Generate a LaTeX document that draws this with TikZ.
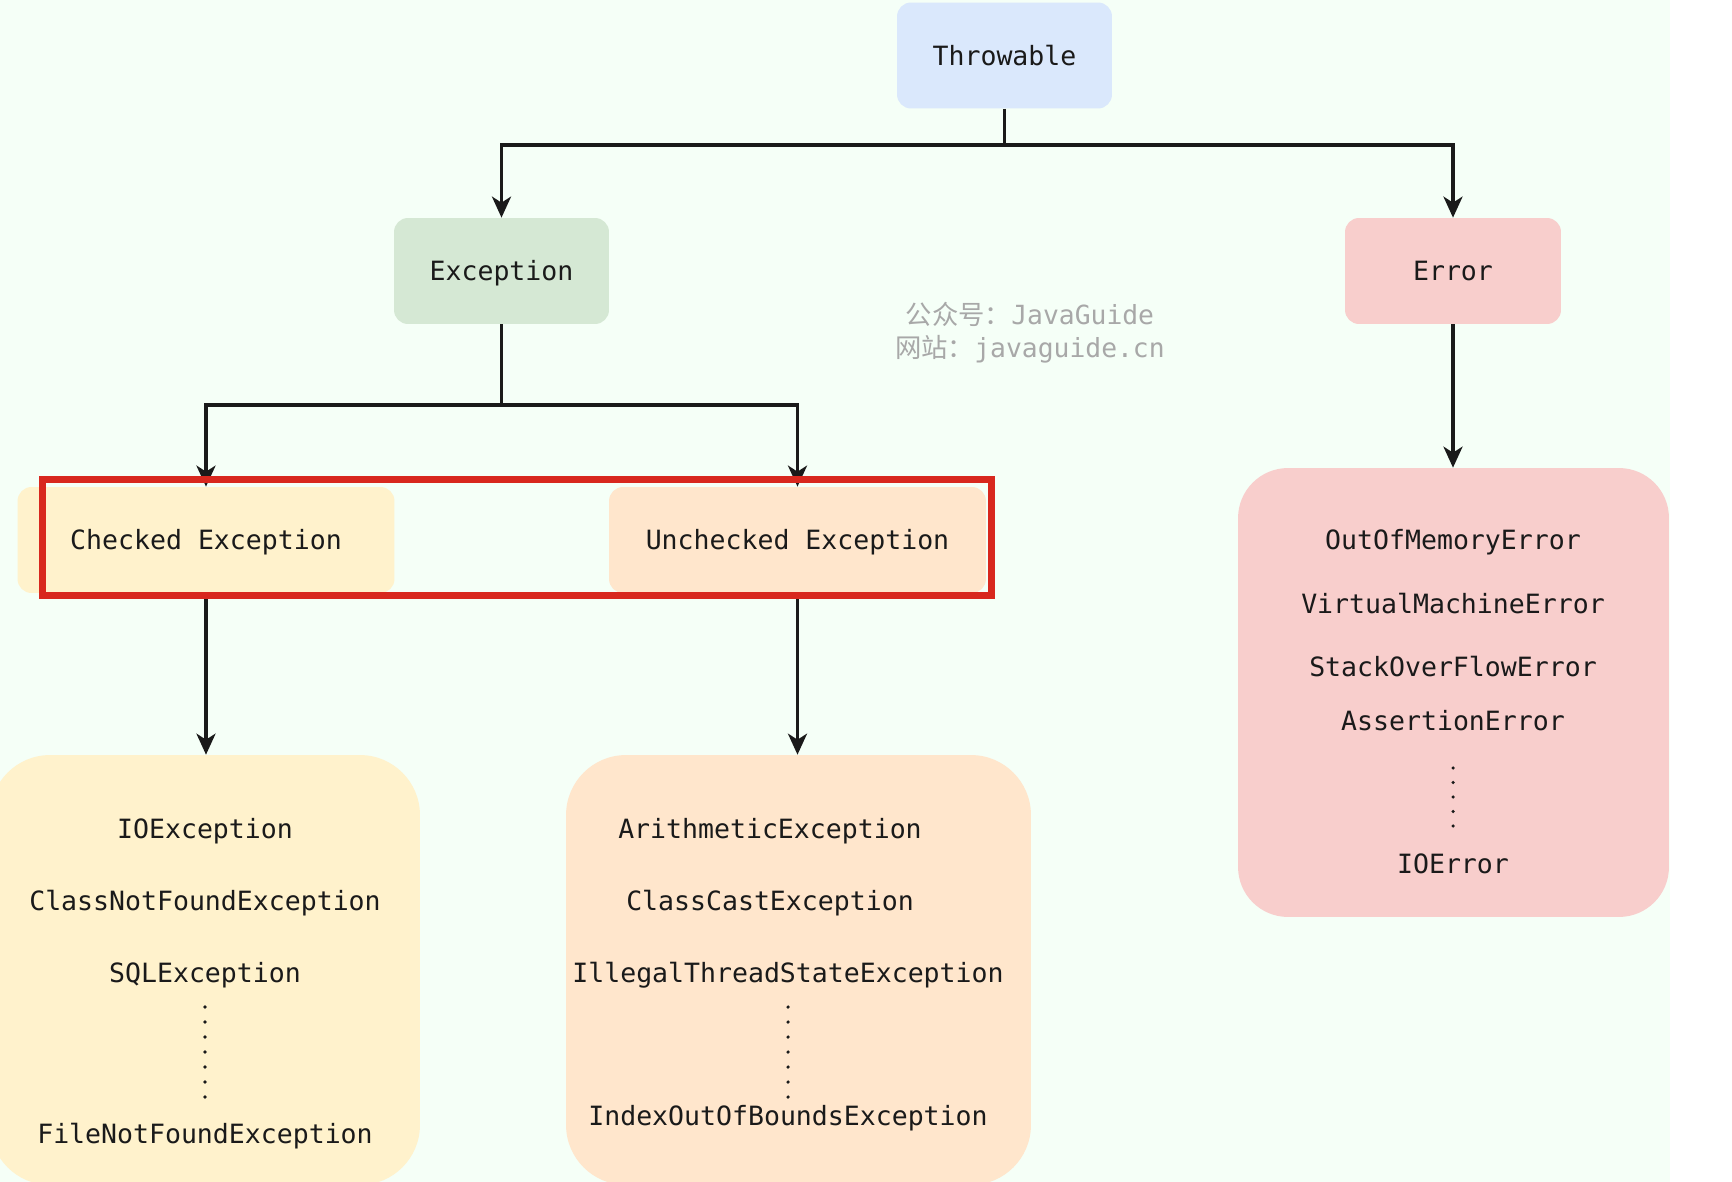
\documentclass[tikz,border=0pt]{standalone}
\usepackage{fontspec}
\setmonofont{DejaVu Sans Mono}
\newfontfamily\cjk{Noto Sans CJK SC}
\usetikzlibrary{arrows.meta}

\definecolor{bgmint}{HTML}{F5FFF7}
\definecolor{ink}{HTML}{1A1A1A}
\definecolor{wmgray}{HTML}{A8A8A8}
\definecolor{hlred}{HTML}{D8281E}
\definecolor{fillblue}{HTML}{DAE8FC}
\definecolor{fillgreen}{HTML}{D5E8D4}
\definecolor{fillred}{HTML}{F8CECC}
\definecolor{fillyellow}{HTML}{FFF2CC}
\definecolor{fillorange}{HTML}{FFE6CC}

\tikzset{
  lbl/.style={font=\fontsize{15.1}{18}\selectfont\ttfamily, text=ink},
  tbox/.style={lbl, rounded corners=0.28cm, minimum width=4.3cm, minimum height=2.12cm,
    inner sep=0pt, text height=0.388cm, text depth=0pt},
  kbox/.style={tbox, minimum width=7.54cm},
  listbox/.style={rounded corners=1.2cm, minimum width=8.6cm, minimum height=8.6cm, inner sep=0pt},
  item/.style={lbl, anchor=base, inner sep=0pt},
  conn/.style={line width=0.07cm, draw=ink},
  arr/.style={conn, -{Stealth[length=0.42cm, width=0.38cm, inset=0.12cm]}},
  wm/.style={font=\fontsize{15}{18}\selectfont\ttfamily, text=wmgray, anchor=base, inner sep=0pt},
}

\begin{document}
\begin{tikzpicture}[x=0.02cm, y=-0.02cm]
  \useasboundingbox (0,0) rectangle (1732,1182);
  % page background
  \fill[white] (0,0) rectangle (1732,1182);
  \fill[bgmint] (0,0) rectangle (1670,1182);

  % hierarchy boxes
  \node[tbox, fill=fillblue]  (thr) at (1004.5,55.5) {Throwable};
  \node[tbox, fill=fillgreen] (exc) at (501.5,271) {Exception};
  \node[tbox, fill=fillred, minimum width=4.32cm] (err) at (1453,271) {Error};
  \node[kbox, fill=fillyellow] (chk) at (206,540) {Checked Exception};
  \node[kbox, fill=fillorange] (unc) at (797.5,540) {Unchecked Exception};

  % lists of subclasses
  \node[listbox, fill=fillyellow] (chklist) at (205,970) {};
  \node[listbox, fill=fillorange, minimum width=9.3cm] (unclist) at (798.5,970) {};
  \node[listbox, fill=fillred, rounded corners=1.0cm, minimum width=8.62cm, minimum height=8.98cm]
    (errlist) at (1453.5,692.5) {};

  \node[item] (c1) at (205,838)  {IOException};
  \node[item] (c2) at (205,910)  {ClassNotFoundException};
  \node[item] (c3) at (205,982)  {SQLException};
  \node[item] (c4) at (205,1143) {FileNotFoundException};
  \foreach \yy in {1007,1022,...,1097} \fill[ink] (205,\yy) circle (1pt);

  \node[item] (u1) at (770,838)  {ArithmeticException};
  \node[item] (u2) at (770,910)  {ClassCastException};
  \node[item] (u3) at (788,982)  {IllegalThreadStateException};
  \node[item] (u4) at (788,1125) {IndexOutOfBoundsException};
  \foreach \yy in {1007,1022,...,1097} \fill[ink] (788,\yy) circle (1pt);

  \node[item] (e1) at (1453,550) {OutOfMemoryError};
  \node[item] (e2) at (1453,613) {VirtualMachineError};
  \node[item] (e3) at (1453,676) {StackOverFlowError};
  \node[item] (e4) at (1453,730) {AssertionError};
  \node[item] (e5) at (1453,873) {IOError};
  \foreach \yy in {768,782.5,797,811.5,826} \fill[ink] (1453,\yy) circle (1pt);

  % connectors
  \coordinate (jt) at (1004.5,145);
  \coordinate (je) at (501.5,405);
  \draw[conn] (thr.south) -- (jt);
  \draw[arr] (jt) -| (exc.north);
  \draw[arr] (jt) -| (err.north);
  \draw[conn] (exc.south) -- (je);
  \draw[arr] (je) -| (chk.north);
  \draw[arr] (je) -| (unc.north);
  \draw[arr] (err.south) -- (err.south |- errlist.north);
  \draw[arr] (chk.south) -- (chk.south |- chklist.north);
  \draw[arr] (unc.south) -- (unc.south |- unclist.north);

  % highlight frame
  \draw[hlred, line width=0.14cm] (42.5,479.5) rectangle (991.5,595.5);

  % watermark
  \node[wm] (wm1) at (1030,325) {{\cjk 公众号：}JavaGuide};
  \node[wm] (wm2) at (1030,358) {{\cjk 网站：}javaguide.cn};
\end{tikzpicture}
\end{document}
